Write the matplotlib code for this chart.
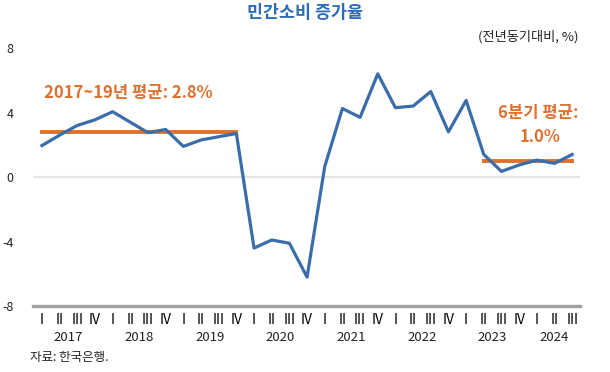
import matplotlib.pyplot as plt

plt.rcParams['font.family'] = ['Noto Sans CJK KR', 'DejaVu Sans']

years = ["2017", "2018", "2019", "2020", "2021", "2022", "2023", "2024"]
quarters = ["I", "II", "III", "IV"]
growth = [1.95, 2.6, 3.2, 3.55, 4.05, 3.4, 2.75, 2.95,
          1.9, 2.3, 2.5, 2.7,
          -4.4, -3.9, -4.1, -6.2,
          0.65, 4.25, 3.7, 6.4,
          4.3, 4.4, 5.3, 2.8,
          4.75, 1.4, 0.35, 0.75,
          1.05, 0.85, 1.4]
avg_pre = 2.8     # 2017~2019 average
avg_recent = 1.0  # last 6 quarters average

n = len(growth)
x = list(range(n))
qlabels = [quarters[i % 4] for i in range(n)]

blue = "#3A6DAA"
orange = "#E0702E"

fig = plt.figure(figsize=(6.1, 3.72), dpi=100)
ax = fig.add_axes([0.054, 0.177, 0.897, 0.694])

ax.axhline(0, color="#E6E6E6", lw=1.6, zorder=1)
ax.plot(x, growth, color=blue, lw=2.3, zorder=3)
ax.plot([0, 11], [avg_pre, avg_pre], color=orange, lw=2.8, zorder=2)
ax.plot([n - 6, n - 1], [avg_recent, avg_recent], color=orange, lw=2.8, zorder=2)

ax.set_ylim(-8, 8)
ax.set_xlim(-0.51, n - 1 + 0.45)
ax.set_yticks([-8, -4, 0, 4, 8])
ax.set_yticklabels(["-8", "-4", "0", "4", "8"], fontsize=9, color="#222222")
ax.tick_params(axis="y", length=0, pad=14)
ax.set_xticks(x)
ax.set_xticklabels(qlabels, fontsize=8, color="#222222", family="DejaVu Sans")
ax.tick_params(axis="x", length=0, pad=5)

for s in ["top", "right", "left"]:
    ax.spines[s].set_visible(False)
ax.spines["bottom"].set_color("#A0A0A0")
ax.spines["bottom"].set_linewidth(2.4)
ax.spines["bottom"].set_position(("data", -8))

# year labels under the quarter labels
for i, yr in enumerate(years):
    start = i * 4
    end = min(start + 3, n - 1)
    ax.text((start + end) / 2, -0.095, yr, transform=ax.get_xaxis_transform(),
            ha="center", va="top", fontsize=9.5, color="#222222")

ax.text(0.1, 5.2, "2017~19년 평균: 2.8%", color=orange, fontsize=12,
        fontweight="bold", ha="left", va="center")
ax.text(n - 1 + 0.35, 4.0, "6분기 평균:", color=orange, fontsize=12,
        fontweight="bold", ha="right", va="center")
ax.text(n - 2.8, 2.5, "1.0%", color=orange, fontsize=12,
        fontweight="bold", ha="center", va="center")

fig.text(0.5, 0.965, "민간소비 증가율", ha="center", va="center",
         fontsize=12.5, fontweight="bold", color="#2E6DB4")
fig.text(0.948, 0.902, "(전년동기대비, %)", ha="right", va="center",
         fontsize=9.5, color="#222222")
fig.text(0.05, 0.04, "자료: 한국은행.", ha="left", va="center",
         fontsize=9, color="#222222")

fig.savefig("out.png", dpi=100)
